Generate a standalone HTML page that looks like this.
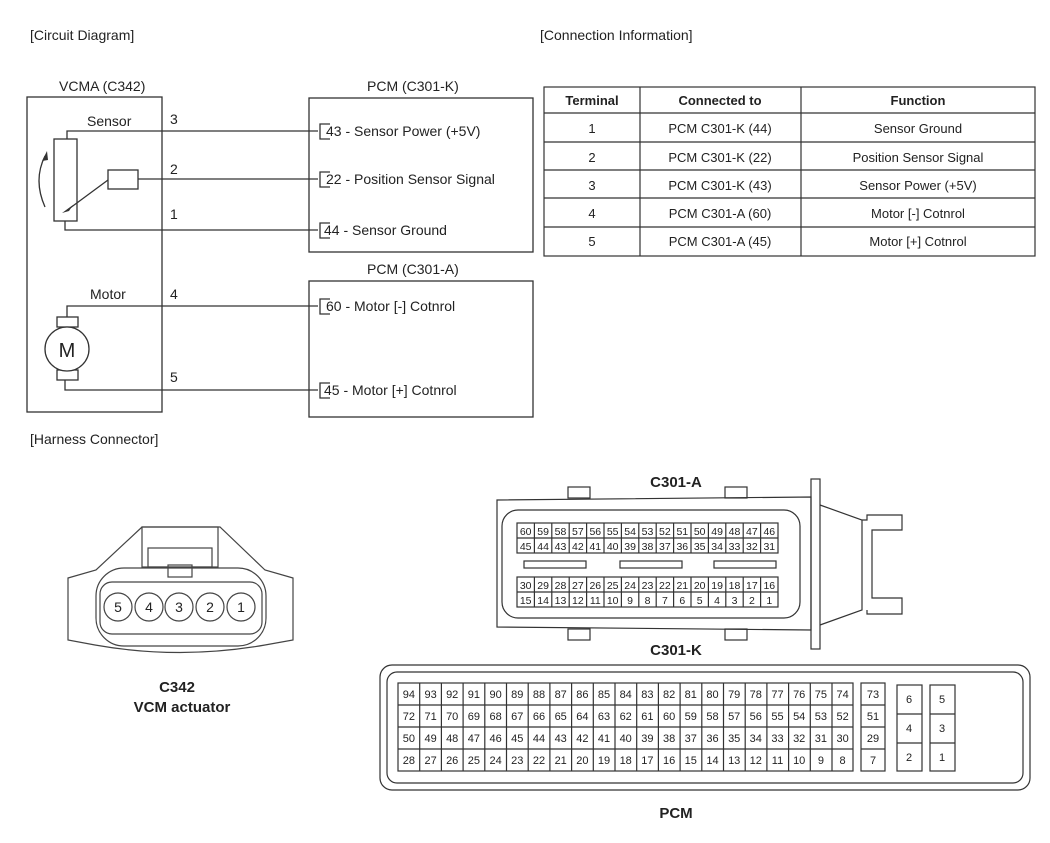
<!DOCTYPE html>
<html><head><meta charset="utf-8"><style>
html,body{margin:0;padding:0;background:#fff}
svg{display:block}
text{font-family:"Liberation Sans",Arial,sans-serif;fill:#222}
</style></head><body>
<svg width="1050" height="843" viewBox="0 0 1050 843" xmlns="http://www.w3.org/2000/svg">
<g font-size="14">
<text x="30" y="40">[Circuit Diagram]</text>
<text x="540" y="40">[Connection Information]</text>
<text x="30" y="444">[Harness Connector]</text>
</g>
<!-- circuit -->
<g stroke="#333" stroke-width="1.3" fill="none">
<rect x="27" y="97" width="135" height="315"/>
<rect x="309" y="98" width="224" height="154"/>
<rect x="309" y="281" width="224" height="136"/>
<polyline points="67,139 67,131 318,131"/>
<line x1="138" y1="179" x2="318" y2="179"/>
<polyline points="65,221 65,230 318,230"/>
<rect x="54" y="139" width="23" height="82"/>
<rect x="108" y="170" width="30" height="19"/>
<line x1="108" y1="180" x2="66" y2="211"/>
<path d="M45,207 Q33,180 45,156"/>
<polyline points="67,317 67,306 318,306"/>
<polyline points="65,380 65,390 318,390"/>
<rect x="57" y="317" width="21" height="10"/>
<rect x="57" y="370" width="21" height="10"/>
<circle cx="67" cy="349" r="22" fill="#fff"/>
<polyline points="330,124 320,124 320,139 330,139"/>
<polyline points="330,172 320,172 320,187 330,187"/>
<polyline points="330,223 320,223 320,238 330,238"/>
<polyline points="330,299 320,299 320,314 330,314"/>
<polyline points="330,383 320,383 320,398 330,398"/>
</g>
<path d="M62,213 L73,205 L69,211 Z" fill="#333"/>
<path d="M47,151 L42,161 L48,160 Z" fill="#333"/>
<g font-size="14">
<text x="59" y="91">VCMA (C342)</text>
<text x="367" y="91">PCM (C301-K)</text>
<text x="367" y="274">PCM (C301-A)</text>
<text x="87" y="126">Sensor</text>
<text x="90" y="299">Motor</text>
<text x="170" y="124">3</text><text x="170" y="174">2</text><text x="170" y="219">1</text>
<text x="170" y="299">4</text><text x="170" y="382">5</text>
<text x="326" y="136">43 - Sensor Power (+5V)</text>
<text x="326" y="184">22 - Position Sensor Signal</text>
<text x="324" y="235">44 - Sensor Ground</text>
<text x="326" y="311">60 - Motor [-] Cotnrol</text>
<text x="324" y="395">45 - Motor [+] Cotnrol</text>
<text x="67" y="357" text-anchor="middle" font-size="20">M</text>
</g>
<!-- table -->
<g stroke="#333" stroke-width="1.2" fill="none">
<rect x="544" y="87" width="491" height="169"/>
<line x1="544" y1="113" x2="1035" y2="113"/>
<line x1="544" y1="142" x2="1035" y2="142"/>
<line x1="544" y1="170" x2="1035" y2="170"/>
<line x1="544" y1="198" x2="1035" y2="198"/>
<line x1="544" y1="227" x2="1035" y2="227"/>
<line x1="640" y1="87" x2="640" y2="256"/>
<line x1="801" y1="87" x2="801" y2="256"/>
</g>
<g font-size="13" text-anchor="middle">
<text x="592" y="105" font-weight="bold">Terminal</text>
<text x="720" y="105" font-weight="bold">Connected to</text>
<text x="918" y="105" font-weight="bold">Function</text>
<text x="592" y="133">1</text><text x="720" y="133">PCM C301-K (44)</text><text x="918" y="133">Sensor Ground</text>
<text x="592" y="162">2</text><text x="720" y="162">PCM C301-K (22)</text><text x="918" y="162">Position Sensor Signal</text>
<text x="592" y="190">3</text><text x="720" y="190">PCM C301-K (43)</text><text x="918" y="190">Sensor Power (+5V)</text>
<text x="592" y="218">4</text><text x="720" y="218">PCM C301-A (60)</text><text x="918" y="218">Motor [-] Cotnrol</text>
<text x="592" y="246">5</text><text x="720" y="246">PCM C301-A (45)</text><text x="918" y="246">Motor [+] Cotnrol</text>
</g>
<!-- C342 -->
<g stroke="#444" stroke-width="1.2" fill="none">
<path d="M142,527 L220,527 L265,570 L293,578 L293,640 L265,645 Q180,660 95,645 L68,640 L68,578 L96,570 Z"/>
<rect x="96" y="568" width="170" height="78" rx="28"/>
<rect x="100" y="582" width="162" height="52" rx="12"/>
<rect x="142" y="527" width="76" height="40"/>
<rect x="148" y="548" width="64" height="19"/>
<rect x="168" y="565" width="24" height="12"/>
<circle cx="118" cy="607" r="14"/><circle cx="149" cy="607" r="14"/><circle cx="179" cy="607" r="14"/><circle cx="210" cy="607" r="14"/><circle cx="241" cy="607" r="14"/>
</g>
<g font-size="14" text-anchor="middle">
<text x="118" y="612">5</text><text x="149" y="612">4</text><text x="179" y="612">3</text><text x="210" y="612">2</text><text x="241" y="612">1</text>
<text x="177" y="692" font-weight="bold" font-size="15">C342</text>
<text x="182" y="712" font-weight="bold" font-size="15">VCM actuator</text>
</g>
<!-- C301 -->
<g stroke="#333" stroke-width="1.2" fill="none">
<path d="M497,500 L811,497 L811,630 L497,627 Z"/>
<rect x="502" y="510" width="298" height="108" rx="16"/>
<rect x="568" y="487" width="22" height="11"/><rect x="725" y="487" width="22" height="11"/>
<rect x="568" y="629" width="22" height="11"/><rect x="725" y="629" width="22" height="11"/>
<rect x="811" y="479" width="9" height="170"/>
<polyline points="820,505 862,520 862,610 820,625"/>
<polyline points="862,520 867,520 867,515 902,515 902,530 872,530 872,598 902,598 902,614 867,614 867,610"/>
<rect x="517" y="523" width="261" height="30"/>
<line x1="517" y1="538" x2="778" y2="538"/>
<rect x="517" y="577" width="261" height="30"/>
<line x1="517" y1="592" x2="778" y2="592"/>
<rect x="524" y="561" width="62" height="7"/><rect x="620" y="561" width="62" height="7"/><rect x="714" y="561" width="62" height="7"/>
<path d="M534.4,523V553M551.8,523V553M569.2,523V553M586.6,523V553M604,523V553M621.4,523V553M638.8,523V553M656.2,523V553M673.6,523V553M691,523V553M708.4,523V553M725.8,523V553M743.2,523V553M760.6,523V553"/>
<path d="M534.4,577V607M551.8,577V607M569.2,577V607M586.6,577V607M604,577V607M621.4,577V607M638.8,577V607M656.2,577V607M673.6,577V607M691,577V607M708.4,577V607M725.8,577V607M743.2,577V607M760.6,577V607"/>
</g>
<g font-size="10.5" text-anchor="middle">
<text y="535"><tspan x="525.7">60</tspan><tspan x="543.1">59</tspan><tspan x="560.5">58</tspan><tspan x="577.9">57</tspan><tspan x="595.3">56</tspan><tspan x="612.7">55</tspan><tspan x="630.1">54</tspan><tspan x="647.5">53</tspan><tspan x="664.9">52</tspan><tspan x="682.3">51</tspan><tspan x="699.7">50</tspan><tspan x="717.1">49</tspan><tspan x="734.5">48</tspan><tspan x="751.9">47</tspan><tspan x="769.3">46</tspan></text>
<text y="550"><tspan x="525.7">45</tspan><tspan x="543.1">44</tspan><tspan x="560.5">43</tspan><tspan x="577.9">42</tspan><tspan x="595.3">41</tspan><tspan x="612.7">40</tspan><tspan x="630.1">39</tspan><tspan x="647.5">38</tspan><tspan x="664.9">37</tspan><tspan x="682.3">36</tspan><tspan x="699.7">35</tspan><tspan x="717.1">34</tspan><tspan x="734.5">33</tspan><tspan x="751.9">32</tspan><tspan x="769.3">31</tspan></text>
<text y="589"><tspan x="525.7">30</tspan><tspan x="543.1">29</tspan><tspan x="560.5">28</tspan><tspan x="577.9">27</tspan><tspan x="595.3">26</tspan><tspan x="612.7">25</tspan><tspan x="630.1">24</tspan><tspan x="647.5">23</tspan><tspan x="664.9">22</tspan><tspan x="682.3">21</tspan><tspan x="699.7">20</tspan><tspan x="717.1">19</tspan><tspan x="734.5">18</tspan><tspan x="751.9">17</tspan><tspan x="769.3">16</tspan></text>
<text y="604"><tspan x="525.7">15</tspan><tspan x="543.1">14</tspan><tspan x="560.5">13</tspan><tspan x="577.9">12</tspan><tspan x="595.3">11</tspan><tspan x="612.7">10</tspan><tspan x="630.1">9</tspan><tspan x="647.5">8</tspan><tspan x="664.9">7</tspan><tspan x="682.3">6</tspan><tspan x="699.7">5</tspan><tspan x="717.1">4</tspan><tspan x="734.5">3</tspan><tspan x="751.9">2</tspan><tspan x="769.3">1</tspan></text>
</g>
<g font-size="15" font-weight="bold" text-anchor="middle">
<text x="676" y="487">C301-A</text>
<text x="676" y="655">C301-K</text>
<text x="676" y="818">PCM</text>
</g>
<!-- PCM -->
<g stroke="#333" stroke-width="1.2" fill="none">
<rect x="380" y="665" width="650" height="125" rx="12"/>
<rect x="387" y="672" width="636" height="111" rx="10"/>
<rect x="398" y="683" width="455" height="88"/>
<path d="M398,705H853M398,727H853M398,749H853"/>
<path d="M419.7,683V771M441.4,683V771M463.1,683V771M484.8,683V771M506.5,683V771M528.2,683V771M549.9,683V771M571.6,683V771M593.3,683V771M615,683V771M636.7,683V771M658.4,683V771M680.1,683V771M701.8,683V771M723.5,683V771M745.2,683V771M766.9,683V771M788.6,683V771M810.3,683V771M832,683V771"/>
<rect x="861" y="683" width="24" height="88"/>
<path d="M861,705H885M861,727H885M861,749H885"/>
<rect x="897" y="685" width="25" height="86"/>
<path d="M897,714H922M897,743H922"/>
<rect x="930" y="685" width="25" height="86"/>
<path d="M930,714H955M930,743H955"/>
</g>
<g font-size="11" text-anchor="middle">
<text y="698"><tspan x="408.9">94</tspan><tspan x="430.6">93</tspan><tspan x="452.2">92</tspan><tspan x="473.9">91</tspan><tspan x="495.6">90</tspan><tspan x="517.3">89</tspan><tspan x="539">88</tspan><tspan x="560.7">87</tspan><tspan x="582.4">86</tspan><tspan x="604">85</tspan><tspan x="625.7">84</tspan><tspan x="647.4">83</tspan><tspan x="669.1">82</tspan><tspan x="690.8">81</tspan><tspan x="712.5">80</tspan><tspan x="734.2">79</tspan><tspan x="755.8">78</tspan><tspan x="777.5">77</tspan><tspan x="799.2">76</tspan><tspan x="820.9">75</tspan><tspan x="842.6">74</tspan><tspan x="873">73</tspan></text>
<text y="720"><tspan x="408.9">72</tspan><tspan x="430.6">71</tspan><tspan x="452.2">70</tspan><tspan x="473.9">69</tspan><tspan x="495.6">68</tspan><tspan x="517.3">67</tspan><tspan x="539">66</tspan><tspan x="560.7">65</tspan><tspan x="582.4">64</tspan><tspan x="604">63</tspan><tspan x="625.7">62</tspan><tspan x="647.4">61</tspan><tspan x="669.1">60</tspan><tspan x="690.8">59</tspan><tspan x="712.5">58</tspan><tspan x="734.2">57</tspan><tspan x="755.8">56</tspan><tspan x="777.5">55</tspan><tspan x="799.2">54</tspan><tspan x="820.9">53</tspan><tspan x="842.6">52</tspan><tspan x="873">51</tspan></text>
<text y="742"><tspan x="408.9">50</tspan><tspan x="430.6">49</tspan><tspan x="452.2">48</tspan><tspan x="473.9">47</tspan><tspan x="495.6">46</tspan><tspan x="517.3">45</tspan><tspan x="539">44</tspan><tspan x="560.7">43</tspan><tspan x="582.4">42</tspan><tspan x="604">41</tspan><tspan x="625.7">40</tspan><tspan x="647.4">39</tspan><tspan x="669.1">38</tspan><tspan x="690.8">37</tspan><tspan x="712.5">36</tspan><tspan x="734.2">35</tspan><tspan x="755.8">34</tspan><tspan x="777.5">33</tspan><tspan x="799.2">32</tspan><tspan x="820.9">31</tspan><tspan x="842.6">30</tspan><tspan x="873">29</tspan></text>
<text y="764"><tspan x="408.9">28</tspan><tspan x="430.6">27</tspan><tspan x="452.2">26</tspan><tspan x="473.9">25</tspan><tspan x="495.6">24</tspan><tspan x="517.3">23</tspan><tspan x="539">22</tspan><tspan x="560.7">21</tspan><tspan x="582.4">20</tspan><tspan x="604">19</tspan><tspan x="625.7">18</tspan><tspan x="647.4">17</tspan><tspan x="669.1">16</tspan><tspan x="690.8">15</tspan><tspan x="712.5">14</tspan><tspan x="734.2">13</tspan><tspan x="755.8">12</tspan><tspan x="777.5">11</tspan><tspan x="799.2">10</tspan><tspan x="820.9">9</tspan><tspan x="842.6">8</tspan><tspan x="873">7</tspan></text>
<text x="909" y="703">6</text><text x="942" y="703">5</text>
<text x="909" y="732">4</text><text x="942" y="732">3</text>
<text x="909" y="761">2</text><text x="942" y="761">1</text>
</g>
</svg>
</body></html>
